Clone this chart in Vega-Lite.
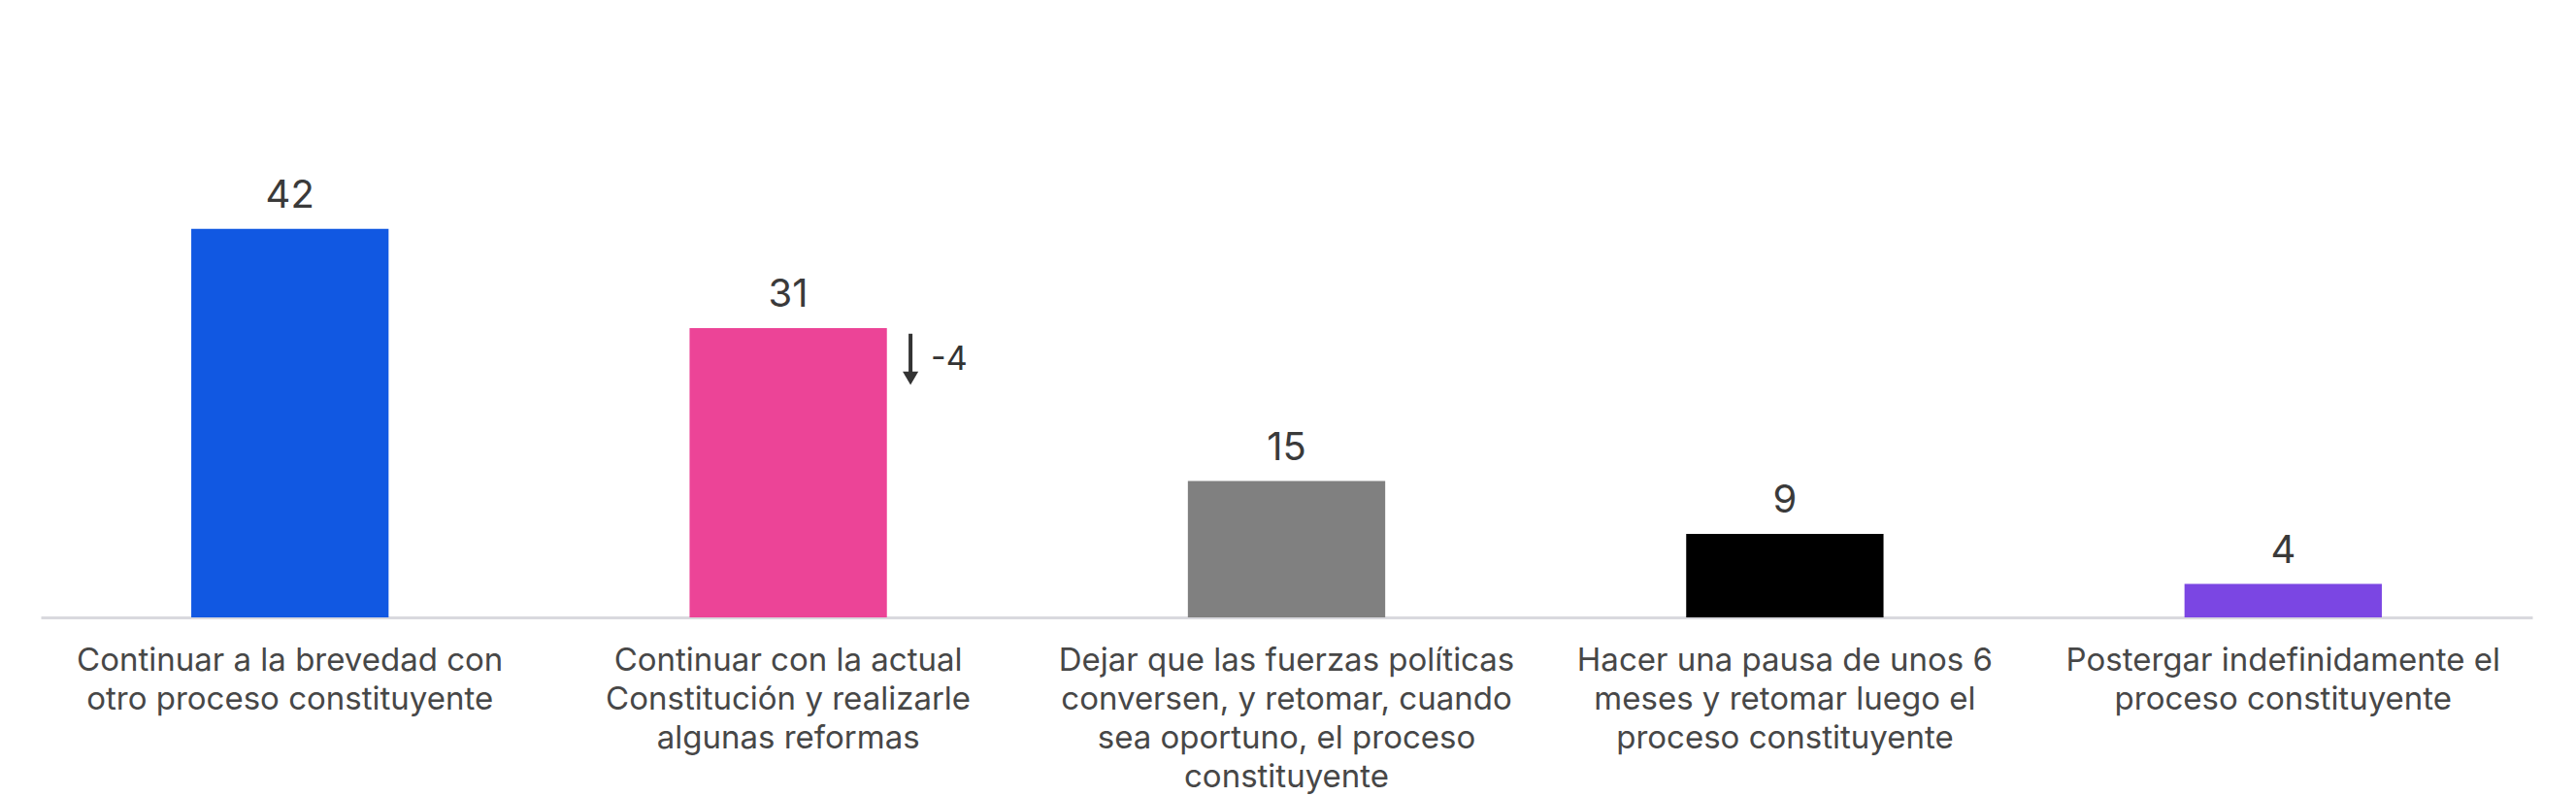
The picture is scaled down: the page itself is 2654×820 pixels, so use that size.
{
  "$schema": "https://vega.github.io/schema/vega-lite/v6.json",
  "autosize": "none",
  "width": 2567,
  "height": 636,
  "padding": {"left": 42, "top": 0, "right": 45, "bottom": 184},
  "background": "#ffffff",
  "config": {
    "view": {"stroke": null},
    "font": "Inter"
  },
  "datasets": {
    "bars": [
      {"opcion": "Continuar a la brevedad con|otro proceso constituyente", "pct": 41.9},
      {"opcion": "Continuar con la actual|Constitución y realizarle|algunas reformas", "pct": 31.2},
      {"opcion": "Dejar que las fuerzas políticas|conversen, y retomar, cuando|sea oportuno, el proceso|constituyente", "pct": 14.7},
      {"opcion": "Hacer una pausa de unos 6|meses y retomar luego el|proceso constituyente", "pct": 9.0},
      {"opcion": "Postergar indefinidamente el|proceso constituyente", "pct": 3.6}
    ],
    "cambio": [
      {"opcion": "Continuar con la actual|Constitución y realizarle|algunas reformas", "desde": 30.6, "hasta": 26.4, "punta": 25.8, "etiqueta": 27.8, "delta": "-4"}
    ]
  },
  "layer": [
    {
      "data": {"name": "bars"},
      "mark": {"type": "bar"},
      "encoding": {
        "x": {
          "field": "opcion",
          "type": "nominal",
          "sort": null,
          "scale": {"paddingInner": 0.604, "paddingOuter": 0.302},
          "axis": {
            "title": null,
            "labelAngle": 0,
            "labelExpr": "split(datum.label, '|')",
            "labelFontSize": 33,
            "labelColor": "#474747",
            "labelLineHeight": 40,
            "labelBaseline": "top",
            "labelPadding": 28,
            "labelLimit": 0,
            "ticks": false,
            "domainColor": "#d9d9de",
            "domainWidth": 3
          }
        },
        "y": {
          "field": "pct",
          "type": "quantitative",
          "scale": {"domain": [0, 66.6], "nice": false},
          "axis": null
        },
        "color": {
          "field": "opcion",
          "type": "nominal",
          "legend": null,
          "scale": {
            "domain": [
              "Continuar a la brevedad con|otro proceso constituyente",
              "Continuar con la actual|Constitución y realizarle|algunas reformas",
              "Dejar que las fuerzas políticas|conversen, y retomar, cuando|sea oportuno, el proceso|constituyente",
              "Hacer una pausa de unos 6|meses y retomar luego el|proceso constituyente",
              "Postergar indefinidamente el|proceso constituyente"
            ],
            "range": ["#1158e2", "#ec4497", "#808080", "#000000", "#7b46e3"]
          }
        }
      }
    },
    {
      "data": {"name": "bars"},
      "mark": {"type": "text", "fontSize": 40, "color": "#3a3a3a", "baseline": "alphabetic", "dy": -22},
      "encoding": {
        "x": {"field": "opcion", "type": "nominal", "sort": null},
        "y": {"field": "pct", "type": "quantitative"},
        "text": {"field": "pct", "type": "quantitative", "format": ".0f"}
      }
    },
    {
      "data": {"name": "cambio"},
      "mark": {"type": "rule", "color": "#333333", "strokeWidth": 4, "xOffset": 126},
      "encoding": {
        "x": {"field": "opcion", "type": "nominal", "sort": null},
        "y": {"field": "desde", "type": "quantitative"},
        "y2": {"field": "hasta"}
      }
    },
    {
      "data": {"name": "cambio"},
      "mark": {"type": "point", "shape": "triangle-down", "filled": true, "color": "#333333", "opacity": 1, "size": 260, "xOffset": 126},
      "encoding": {
        "x": {"field": "opcion", "type": "nominal", "sort": null},
        "y": {"field": "punta", "type": "quantitative"}
      }
    },
    {
      "data": {"name": "cambio"},
      "mark": {"type": "text", "fontSize": 34, "color": "#333333", "align": "left", "baseline": "middle", "dx": 147},
      "encoding": {
        "x": {"field": "opcion", "type": "nominal", "sort": null},
        "y": {"field": "etiqueta", "type": "quantitative"},
        "text": {"field": "delta", "type": "nominal"}
      }
    }
  ]
}
